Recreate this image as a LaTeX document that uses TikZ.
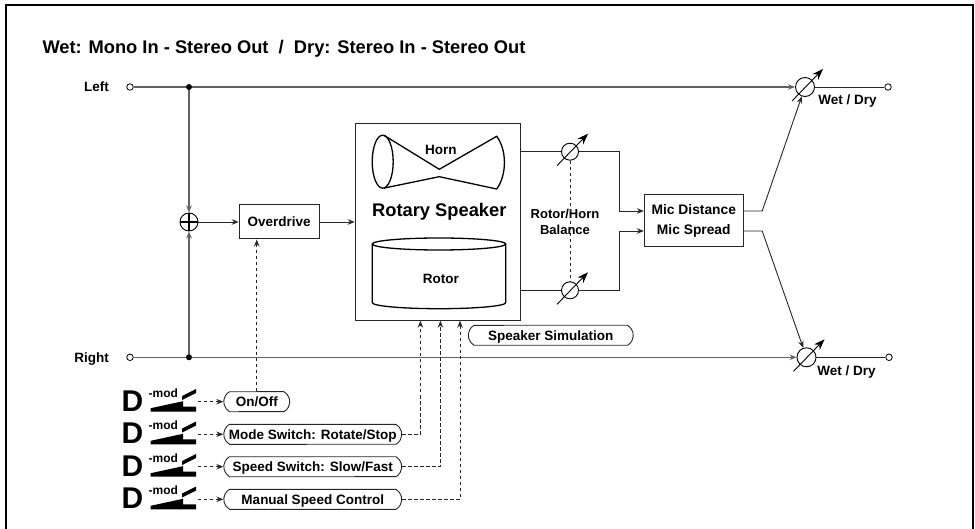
\documentclass[tikz,border=0pt]{standalone}
\usepackage{fontspec}
\setmainfont{Liberation Sans}
\usetikzlibrary{positioning}
\usetikzlibrary{shapes.misc}
\usetikzlibrary{arrows.meta}
\usetikzlibrary{calc}

\begin{document}
\begin{tikzpicture}
    [
      x = 1pt, y = -1pt,
      every node/.style = {font=\bfseries\fontsize{13.5}{16}\selectfont},
      sig/.style = {draw=black!62, line width=1.4pt},
      wire/.style = {draw=black!85, line width=0.9pt},
      ctrl/.style = {draw=black!85, line width=0.8pt, dash pattern=on 3.5pt off 2.5pt},
      tip/.style = {-{Stealth[length=7pt,width=5.5pt]}},
      block/.style = {draw=black!85, line width=1pt, fill=white, align=center, inner sep=0pt},
      pill/.style = {draw=black!85, line width=0.9pt, rounded rectangle, rounded rectangle arc length=120,
                     minimum height=20pt, inner sep=0pt, text height=9.7pt, text depth=0pt},
      knob/.style = {draw=black, line width=0.9pt, circle, minimum size=18pt, inner sep=0pt},
      knobarrow/.style = {draw=black, line width=0.9pt, -{Stealth[length=11pt,width=8pt]}},
      port/.style = {draw=black, line width=0.8pt, circle, fill=white, minimum size=6.5pt, inner sep=0pt},
      joint/.style = {fill=black, circle, minimum size=6pt, inner sep=0pt},
    ]

    \useasboundingbox (0,0) rectangle (975,529);
    \draw[line width=2pt] (6,545) -- (6,5) -- (972.7,5) -- (972.7,545);

    \node[anchor=base west, font=\bfseries\fontsize{18.3}{22}\selectfont] (title) at (39,53.3)
      {Wet: Mono In - Stereo Out \ / \ Dry: Stereo In - Stereo Out};

    % inputs
    \node[anchor=base east] (leftlbl) at (112.5,91.8) {Left};
    \node[anchor=base east] (rightlbl) at (112.5,362.1) {Right};
    \node[port] (lin) at (130,87) {};
    \node[port] (rin) at (130,357.3) {};
    \coordinate (jl) at (189,87);
    \coordinate (jr) at (189,357.3);

    % wet path
    \node[knob] (sum) at (189,222) {};
    \draw[line width=1.1pt] (sum.north) -- (sum.south) (sum.west) -- (sum.east);
    \node[block, minimum width=80pt, minimum height=34pt] (od) at (279.2,222) {Overdrive};
    \node[block, minimum width=165pt, minimum height=197pt] (rotary) at (437.7,221.7) {};
    \node[anchor=base, font=\bfseries\fontsize{18.3}{22}\selectfont] (rsname) at (439.3,216.5) {Rotary Speaker};
    \node[anchor=base] (hornlbl) at (440.8,154.1) {Horn};
    \node[anchor=base] (rotorlbl) at (440.8,283.1) {Rotor};

    % horn and rotor drawings
    \draw[line width=1.3pt] (382.7,161.7) ellipse (10.5 and 26.5);
    \draw[line width=1.3pt] (384,135.3) -- (439.3,169.3) -- (496.7,136.3)
      .. controls (507,150) and (507,175) .. (496.7,189) -- (439.3,176.7) -- (384,188.1);
    \draw[line width=1.3pt] (439,244) ellipse (66.7 and 6);
    \draw[line width=1.3pt] (372.3,244) -- (372.3,302.7) arc (180:0:66.7 and 6) -- (505.7,244);

    % balance and mics
    \node[knob, minimum size=17pt] (kh) at (570,151.7) {};
    \node[knob, minimum size=17pt] (kr) at (570,290.3) {};
    \node[font=\bfseries\fontsize{13}{15.7}\selectfont, align=center] (bal) at (565,222) {Rotor/Horn\\Balance};
    \node[block, minimum width=99pt, minimum height=52pt, font=\bfseries\fontsize{13.8}{19.7}\selectfont] (mic) at (693.8,221)
      {Mic Distance\\Mic Spread};
    \coordinate (mi1) at ($(mic.west)+(0,-10)$);
    \coordinate (mi2) at ($(mic.west)+(0,10)$);
    \coordinate (mo1) at ($(mic.east)+(0,-10)$);
    \coordinate (mo2) at ($(mic.east)+(0,10)$);

    \node[knob, minimum size=19pt] (wdl) at (805,87) {};
    \node[knob, minimum size=19pt] (wdr) at (806.5,357.3) {};
    \node[port] (outl) at (888,87) {};
    \node[port] (outr) at (889,357.3) {};
    \node[anchor=base] (wdllbl) at (847.5,104.1) {Wet / Dry};
    \node[anchor=base] (wdrlbl) at (846.5,375.5) {Wet / Dry};

    % signal lines
    \draw[sig,tip] (lin) -- (wdl);
    \draw[sig,tip] (rin) -- (wdr);
    \draw[sig,tip] (jl) -- (sum);
    \draw[sig,tip] (jr) -- (sum);
    \node[joint] (jldot) at (jl) {};
    \node[joint] (jrdot) at (jr) {};
    \draw[wire,tip] (sum) -- (od);
    \draw[wire,tip] (od.east) -- (od.east -| rotary.west);
    \draw[wire] (rotary.east |- kh) -- (kh);
    \draw[wire] (rotary.east |- kr) -- (kr);
    \draw[wire,tip] (kh) -| (619,211) -- (mi1);
    \draw[wire,tip] (kr) -| (619,231) -- (mi2);
    \draw[ctrl] (kh) -- (kr);
    \draw[wire,tip] (mo1) -- ++(18.4,0) -- (wdl);
    \draw[wire,tip] (mo2) -- ++(18.4,0) -- (wdr);
    \draw[wire] (wdl) -- (outl);
    \draw[wire] (wdr) -- (outr);

    % gain knob arrows
    \foreach \k in {kh, kr, wdl, wdr} {
      \draw[knobarrow] ($(\k)+(-13,14)$) -- ($(\k)+(18,-18)$);
    }

    % modulation sources
    \node[pill, anchor=west, minimum width=66pt] (onoff) at (223.3,401.7) {On/Off};
    \node[pill, anchor=west, minimum width=178pt] (mode) at (223.3,434.3) {Mode Switch: Rotate/Stop};
    \node[pill, anchor=west, minimum width=178pt] (speed) at (223.3,466.7) {Speed Switch: Slow/Fast};
    \node[pill, anchor=west, minimum width=178pt] (manual) at (223.3,499.3) {Manual Speed Control};
    \node[pill, minimum width=165pt] (sim) at (550.8,335.3) {Speaker Simulation};

    \coordinate (c1) at ($(rotary.south west)+(65.7,0)$);
    \coordinate (c2) at ($(rotary.south west)+(85.7,0)$);
    \coordinate (c3) at ($(rotary.south west)+(105.3,0)$);
    \draw[ctrl,tip] (onoff.north) -- (onoff.north |- od.south);
    \draw[ctrl,tip] (mode.east) -| (c1);
    \draw[ctrl,tip] (speed.east) -| (c2);
    \draw[ctrl,tip] (manual.east) -| (c3);

    \foreach \y/\ctl in {401.7/onoff, 434.3/mode, 466.7/speed, 499.3/manual} {
      \node[anchor=base west, inner sep=0pt, font=\bfseries\fontsize{30}{30}\selectfont] (d\ctl) at (121.5,\y+9.3) {D};
      \node[anchor=base west, inner sep=0pt, font=\bfseries\fontsize{12}{12}\selectfont] (m\ctl) at (148.5,\y-4.7) {-mod};
      \fill (182,\y-1.7) -- (182,\y-5.7) -- (196,\y-12.7) -- (196,\y-8.7) -- cycle;
      \fill (150.7,\y+10) -- (150.7,\y+6.5) -- (183,\y-0.5) -- (183,\y+5) -- (196,\y+5) -- (196,\y+10) -- cycle;
      \coordinate (s\ctl) at (197.5,\y);
      \draw[ctrl,tip] (s\ctl) -- (\ctl);
    }

  \end{tikzpicture}
\end{document}
